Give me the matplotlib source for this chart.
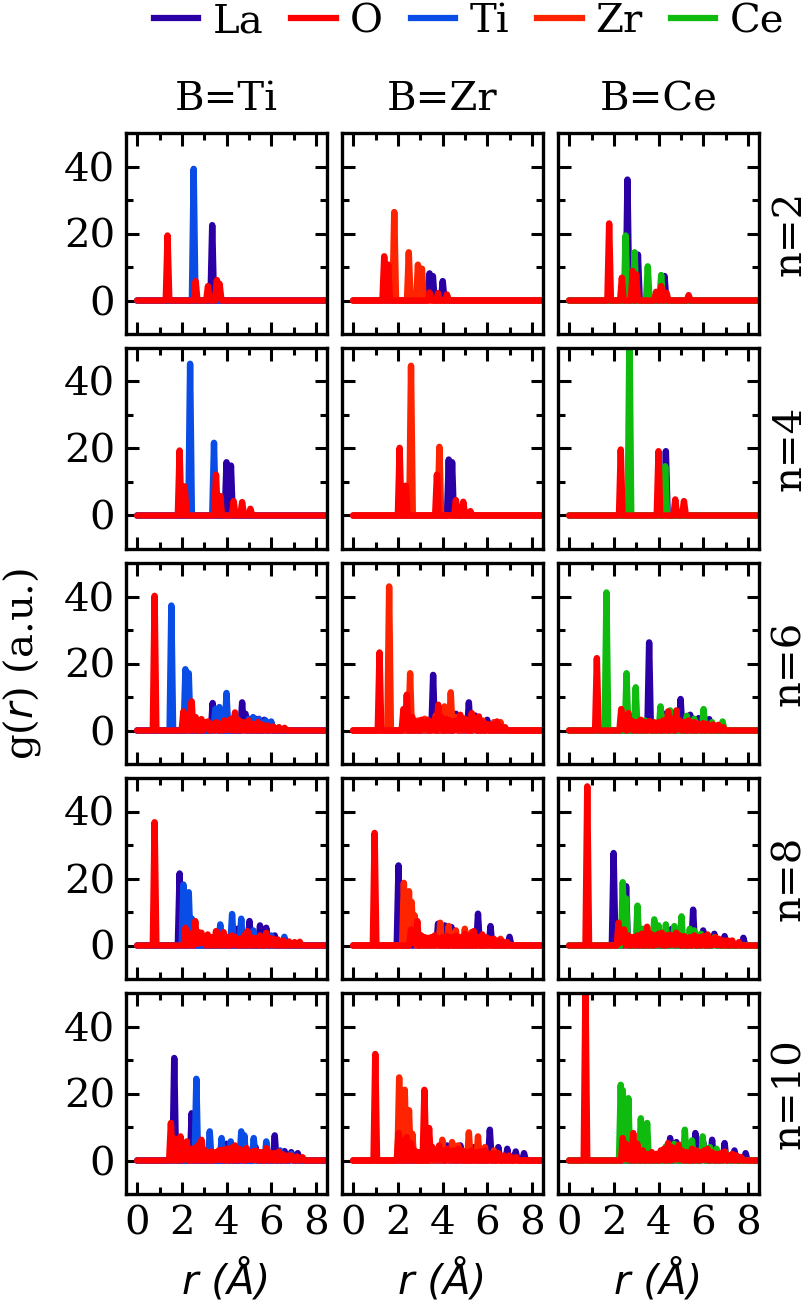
import numpy as np
import matplotlib
matplotlib.use('Agg')
import matplotlib.pyplot as plt
from matplotlib.lines import Line2D

# peak lists (r in Angstrom, height in a.u.)
# B = Ti
ti_n2_la = [(3.36, 22.5)]
ti_n2_b = [(2.53, 39.3)]
ti_n2_o = [(1.36, 19.4), (2.62, 5.8), (3.17, 4.3), (3.57, 6.1), (3.69, 5.0)]
ti_n4_la = [(4.00, 15.9), (4.20, 14.9)]
ti_n4_b = [(2.37, 45.3), (3.44, 21.7)]
ti_n4_o = [(1.90, 19.4), (2.13, 8.7), (3.53, 12.2), (3.72, 5.8), (4.32, 4.3),
           (4.70, 4.0), (5.07, 2.0)]
ti_n6_la = [(3.38, 8.2), (3.55, 6.0), (4.70, 8.4), (4.85, 5.0), (5.30, 3.5),
            (5.69, 3.2), (6.00, 2.5)]
ti_n6_b = [(1.53, 37.3), (2.16, 18.3), (2.31, 17.1), (3.50, 6.5), (3.68, 7.0),
           (4.00, 11.2), (4.45, 4.0), (5.00, 3.5), (5.19, 4.0), (5.45, 3.5),
           (5.75, 3.0), (6.00, 2.7)]
ti_n6_o = [(0.78, 40.2), (2.07, 5.7), (2.25, 3.0), (2.44, 8.7), (2.62, 4.0),
           (2.88, 3.4), (3.05, 2.5), (3.16, 2.7), (3.35, 2.0), (3.55, 2.5),
           (3.72, 2.0), (3.90, 3.0), (4.05, 2.7), (4.20, 3.5), (4.38, 5.4),
           (4.55, 3.0), (4.75, 2.5), (5.00, 3.0), (5.20, 2.0), (5.40, 2.5),
           (5.60, 1.8), (5.85, 1.5), (6.10, 1.2), (6.35, 1.0), (6.60, 0.8)]
ti_n8_la = [(1.90, 21.5), (4.50, 5.0), (5.03, 7.3), (5.50, 6.0), (5.78, 5.3),
            (6.16, 3.0)]
ti_n8_b = [(2.07, 18.2), (2.31, 15.9), (2.45, 8.0), (3.72, 6.3), (4.25, 9.4),
           (4.66, 8.0), (5.20, 4.5), (6.00, 3.0), (6.59, 2.6)]
ti_n8_o = [(0.78, 36.8), (2.16, 5.3), (2.35, 3.5), (2.60, 7.3), (2.75, 4.0),
           (2.88, 3.8), (3.00, 2.5), (3.16, 3.3), (3.35, 2.5), (3.53, 4.3),
           (3.70, 3.0), (3.87, 4.0), (4.05, 2.5), (4.25, 3.0), (4.40, 2.5),
           (4.60, 2.0), (4.78, 3.0), (4.94, 4.3), (5.10, 2.5), (5.30, 2.2),
           (5.50, 3.0), (5.78, 3.8), (5.95, 2.2), (6.10, 2.0), (6.30, 1.8),
           (6.55, 1.5), (6.80, 1.2), (7.05, 1.0), (7.28, 1.1)]
ti_n10_la = [(1.66, 30.6), (2.44, 14.1), (4.00, 5.0), (5.30, 4.0), (6.16, 7.5),
             (6.60, 2.8), (6.90, 2.5), (7.19, 2.2)]
ti_n10_b = [(2.65, 24.4), (3.25, 8.7), (3.78, 6.7), (4.19, 5.7), (4.66, 8.7),
            (4.80, 7.5), (5.22, 6.7), (5.78, 5.7), (6.40, 3.0), (6.90, 2.0)]
ti_n10_o = [(1.51, 11.2), (1.70, 6.5), (1.94, 7.2), (2.10, 5.0), (2.22, 5.7),
            (2.45, 3.5), (2.70, 4.5), (2.88, 6.2), (3.05, 3.0), (3.30, 2.7),
            (3.50, 2.5), (3.65, 3.0), (3.80, 3.2), (4.00, 3.5), (4.20, 3.8),
            (4.38, 4.5), (4.55, 3.5), (4.70, 3.0), (4.90, 3.7), (5.05, 2.5),
            (5.20, 2.8), (5.35, 2.9), (5.55, 2.5), (5.78, 3.7), (5.95, 2.4),
            (6.15, 2.2), (6.35, 2.7), (6.55, 1.8), (6.75, 1.5), (6.90, 1.5),
            (7.15, 1.2), (7.40, 1.0)]

# B = Zr
zr_n2_la = [(3.42, 8.1), (3.57, 7.3), (4.01, 5.8)]
zr_n2_b = [(1.84, 26.4), (2.49, 14.4), (2.90, 10.7), (3.08, 9.5)]
zr_n2_o = [(1.39, 13.2), (1.57, 10.7), (3.42, 2.4), (3.80, 2.2), (4.20, 1.8)]
zr_n4_la = [(4.28, 16.7), (4.43, 15.9)]
zr_n4_b = [(2.59, 44.7), (3.86, 20.5)]
zr_n4_o = [(2.08, 20.2), (2.36, 8.9), (3.75, 12.2), (4.60, 4.6), (4.93, 4.1),
           (5.25, 1.3)]
zr_n6_la = [(3.58, 16.6), (4.60, 5.0), (5.18, 8.4), (5.45, 4.5), (6.00, 3.2)]
zr_n6_b = [(1.61, 43.0), (2.55, 17.1), (2.90, 3.0), (3.20, 3.5), (3.70, 4.5),
           (4.09, 7.2), (4.37, 11.4), (4.60, 4.0), (5.00, 3.5), (5.45, 3.5),
           (5.80, 3.0), (6.30, 2.5), (6.60, 2.5)]
zr_n6_o = [(1.18, 23.3), (2.25, 6.4), (2.40, 10.7), (2.65, 4.0), (2.85, 2.5),
           (3.06, 3.2), (3.20, 2.5), (3.34, 3.2), (3.50, 2.5), (3.65, 3.5),
           (3.81, 7.7), (3.95, 4.0), (4.15, 3.5), (4.30, 3.0), (4.50, 2.8),
           (4.65, 3.0), (4.80, 4.7), (4.95, 3.5), (5.10, 2.5), (5.31, 5.2),
           (5.45, 3.0), (5.63, 4.2), (5.80, 2.5), (6.00, 2.0), (6.20, 1.8),
           (6.44, 2.7), (6.60, 1.2), (6.80, 1.0)]
zr_n8_la = [(2.03, 23.9), (3.80, 6.5), (4.10, 6.0), (4.40, 5.5), (5.59, 9.5),
            (6.15, 5.8), (7.00, 2.6)]
zr_n8_b = [(2.27, 18.7), (2.50, 16.2), (2.62, 13.0), (2.75, 9.0), (3.90, 6.8),
           (4.28, 5.8), (4.60, 4.5), (5.00, 5.0), (5.30, 4.0), (6.60, 2.0)]
zr_n8_o = [(0.96, 33.6), (2.59, 4.8), (2.72, 3.5), (2.87, 7.3), (3.05, 3.0),
           (3.20, 2.5), (3.35, 2.3), (3.50, 2.5), (3.65, 3.0), (3.80, 2.2),
           (4.00, 2.5), (4.20, 2.8), (4.40, 2.5), (4.60, 3.0), (4.80, 2.5),
           (5.00, 3.5), (5.20, 3.0), (5.40, 4.3), (5.60, 2.5), (5.78, 3.3),
           (5.95, 2.5), (6.10, 2.0), (6.30, 2.0), (6.50, 1.5), (6.70, 1.2),
           (6.90, 1.0)]
zr_n10_la = [(4.20, 4.5), (4.80, 4.5), (5.40, 4.0), (6.12, 9.2), (6.50, 4.0),
             (6.90, 3.5), (7.28, 2.7), (7.65, 2.2)]
zr_n10_b = [(2.06, 24.8), (2.31, 21.1), (2.50, 15.0), (2.65, 8.0), (3.99, 6.2),
            (4.43, 5.5), (4.70, 4.5), (5.18, 8.4), (5.59, 7.2), (5.90, 4.0),
            (6.30, 3.0)]
zr_n10_o = [(0.99, 31.8), (2.03, 8.2), (2.20, 6.0), (2.40, 7.0), (2.59, 5.2),
            (2.75, 3.0), (2.95, 2.5), (3.19, 21.1), (3.40, 9.7), (3.55, 4.0),
            (3.70, 3.0), (3.85, 4.5), (4.00, 3.0), (4.20, 3.5), (4.35, 2.8),
            (4.50, 3.0), (4.70, 3.5), (4.90, 3.0), (5.10, 2.5), (5.30, 3.0),
            (5.50, 2.5), (5.70, 2.8), (5.90, 3.0), (6.10, 2.0), (6.30, 2.2),
            (6.50, 2.2), (6.75, 1.5), (7.00, 1.5), (7.30, 1.0)]

# B = Ce
ce_n2_la = [(2.61, 36.1), (3.08, 13.7), (4.27, 7.3)]
ce_n2_b = [(2.53, 19.4), (2.93, 14.4), (3.52, 10.2), (4.12, 7.6)]
ce_n2_o = [(1.79, 23.0), (2.36, 6.8), (2.84, 8.8), (3.00, 7.8), (3.89, 2.6),
           (4.12, 4.3), (4.36, 2.3), (5.35, 1.6)]
ce_n4_la = [(4.33, 19.2)]
ce_n4_b = [(2.70, 55.0), (4.30, 14.7)]
ce_n4_o = [(2.31, 19.7), (4.00, 19.2), (4.75, 4.8), (5.14, 4.3)]
ce_n6_la = [(3.58, 26.3), (4.30, 5.0), (4.60, 4.5), (4.99, 9.4), (5.42, 4.7),
            (5.80, 3.7), (6.27, 3.4)]
ce_n6_b = [(1.67, 41.2), (2.57, 17.1), (2.98, 12.9), (3.40, 3.0), (4.09, 7.2),
           (4.30, 4.0), (4.52, 6.0), (4.80, 4.0), (5.27, 4.4), (5.60, 3.5),
           (6.02, 6.4), (6.40, 2.5), (6.87, 2.7)]
ce_n6_o = [(1.24, 21.6), (2.33, 6.4), (2.48, 4.5), (2.65, 5.2), (2.80, 3.0),
           (3.00, 2.5), (3.21, 3.2), (3.40, 2.5), (3.60, 2.8), (3.80, 2.5),
           (4.00, 2.5), (4.20, 3.0), (4.43, 5.7), (4.60, 3.5), (4.80, 6.0),
           (4.95, 3.0), (5.15, 2.5), (5.35, 3.0), (5.60, 2.5), (5.80, 2.0),
           (6.00, 2.2), (6.20, 2.0), (6.45, 1.8), (6.68, 1.7), (6.90, 1.0)]
ce_n8_la = [(1.99, 27.6), (2.55, 17.7), (4.60, 5.0), (5.55, 10.7), (6.00, 4.5),
            (6.50, 3.5), (6.96, 2.8), (7.80, 2.3)]
ce_n8_b = [(2.40, 18.9), (2.55, 14.0), (3.06, 11.9), (3.30, 5.0), (3.81, 7.8),
           (4.00, 6.0), (4.33, 6.3), (4.71, 5.8), (5.03, 8.7), (5.40, 5.0),
           (5.60, 4.5), (5.90, 3.5), (6.20, 3.0), (6.50, 2.5)]
ce_n8_o = [(0.81, 47.5), (2.21, 6.8), (2.35, 4.0), (2.46, 4.8), (2.65, 3.0),
           (2.85, 2.5), (3.05, 3.0), (3.25, 3.5), (3.49, 5.6), (3.65, 3.5),
           (3.85, 3.0), (4.00, 3.5), (4.15, 3.8), (4.35, 3.0), (4.50, 3.2),
           (4.65, 3.0), (4.80, 3.8), (4.95, 3.0), (5.15, 2.8), (5.40, 2.5),
           (5.60, 3.0), (5.80, 2.5), (6.00, 2.8), (6.20, 3.3), (6.40, 2.0),
           (6.55, 2.5), (6.70, 2.0), (6.90, 1.5), (7.10, 1.5), (7.30, 1.5),
           (7.60, 1.0)]
ce_n10_la = [(4.52, 6.7), (4.80, 5.5), (5.10, 5.0), (5.65, 8.2), (6.00, 5.5),
             (6.40, 6.2), (6.96, 5.2), (7.40, 3.0), (7.90, 2.2)]
ce_n10_b = [(2.31, 22.6), (2.40, 21.0), (2.65, 18.6), (3.21, 12.6), (3.49, 11.2),
            (4.33, 4.2), (4.70, 5.0), (5.18, 9.2), (5.50, 6.0), (5.98, 7.2),
            (6.30, 4.0), (6.60, 3.5), (7.00, 2.5)]
ce_n10_o = [(0.73, 52.0), (2.40, 6.7), (2.55, 5.0), (2.70, 4.0), (2.87, 8.2),
            (3.05, 5.0), (3.30, 3.0), (3.50, 2.0), (3.70, 2.5), (3.90, 2.0),
            (4.10, 3.0), (4.25, 3.5), (4.43, 5.2), (4.60, 4.0), (4.75, 3.5),
            (4.90, 4.7), (5.05, 3.0), (5.25, 2.5), (5.50, 3.5), (5.70, 3.0),
            (5.90, 2.5), (6.05, 3.0), (6.20, 3.5), (6.40, 2.5), (6.60, 2.0),
            (6.80, 2.2), (6.96, 2.7), (7.15, 1.5), (7.30, 2.0), (7.50, 1.5),
            (7.70, 1.0)]

b_sites = ['Ti', 'Zr', 'Ce']
n_layers = [2, 4, 6, 8, 10]
species = ['La', 'O', 'Ti', 'Zr', 'Ce']
colors = {'La': '#2a00a6', 'O': '#ff0000', 'Ti': '#0a4ce6',
          'Zr': '#ff2400', 'Ce': '#10bb10'}

panels = {
    'Ti': [(ti_n2_la, ti_n2_b, ti_n2_o), (ti_n4_la, ti_n4_b, ti_n4_o),
           (ti_n6_la, ti_n6_b, ti_n6_o), (ti_n8_la, ti_n8_b, ti_n8_o),
           (ti_n10_la, ti_n10_b, ti_n10_o)],
    'Zr': [(zr_n2_la, zr_n2_b, zr_n2_o), (zr_n4_la, zr_n4_b, zr_n4_o),
           (zr_n6_la, zr_n6_b, zr_n6_o), (zr_n8_la, zr_n8_b, zr_n8_o),
           (zr_n10_la, zr_n10_b, zr_n10_o)],
    'Ce': [(ce_n2_la, ce_n2_b, ce_n2_o), (ce_n4_la, ce_n4_b, ce_n4_o),
           (ce_n6_la, ce_n6_b, ce_n6_o), (ce_n8_la, ce_n8_b, ce_n8_o),
           (ce_n10_la, ce_n10_b, ce_n10_o)],
}

R = np.linspace(0.0, 8.5, 1701)
HW = 0.08


def spikes(peaks):
    # draw each listed peak as a narrow spike on a zero baseline
    g = np.zeros_like(R)
    for rp, h in peaks:
        g = np.maximum(g, h * np.clip(1 - np.abs(R - rp) / HW, 0, None))
    return g


plt.rcParams['font.family'] = ['DejaVu Serif']
plt.rcParams['mathtext.fontset'] = 'dejavusans'
FS = 29

W, H = 808, 1305
fig = plt.figure(figsize=(W / 100, H / 100), dpi=100)

left, top = 126, 133
pw, ph = 201, 201
gx, gy = 15, 14

for i, n in enumerate(n_layers):
    for j, b in enumerate(b_sites):
        x0 = left + j * (pw + gx)
        y0 = top + i * (ph + gy)
        ax = fig.add_axes([x0 / W, 1 - (y0 + ph) / H, pw / W, ph / H])
        la, bb, o = panels[b][i]
        kw = dict(lw=4.6, solid_joinstyle='round', solid_capstyle='round')
        ax.plot(R, spikes(la), color=colors['La'], **kw)
        ax.plot(R, spikes(bb), color=colors[b], **kw)
        ax.plot(R, spikes(o), color=colors['O'], **kw)
        ax.set_xlim(-0.5, 8.5)
        ax.set_ylim(-10, 50)
        ax.set_xticks([0, 2, 4, 6, 8])
        ax.set_xticks([1, 3, 5, 7], minor=True)
        ax.set_yticks([0, 20, 40])
        ax.set_yticks([10, 30], minor=True)
        ax.tick_params(which='both', direction='in', top=True, right=True,
                       width=2.2, labelsize=FS)
        ax.tick_params(which='major', length=9, pad=8)
        ax.tick_params(which='minor', length=5)
        for s in ax.spines.values():
            s.set_linewidth(2.4)
        if j > 0:
            ax.set_yticklabels([])
        if i < len(n_layers) - 1:
            ax.set_xticklabels([])
        if i == 0:
            fig.text((x0 + pw / 2) / W, 1 - 100 / H, f'B={b}', fontsize=FS,
                     ha='center', va='center')
        if i == len(n_layers) - 1:
            fig.text((x0 + pw / 2) / W, 1 - 1280 / H, 'r (Å)', fontsize=FS,
                     family='DejaVu Sans', style='oblique',
                     ha='center', va='center')
        if j == len(b_sites) - 1:
            fig.text(790 / W, 1 - (y0 + ph / 2) / H, f'n={n}', fontsize=FS,
                     rotation=90, ha='center', va='center')

fig.text(22 / W, 1 - 664 / H, 'g($r$) (a.u.)', fontsize=FS, rotation=90,
         ha='center', va='center')

handles = [Line2D([], [], color=colors[s], lw=4.5) for s in species]
fig.legend(handles, species, loc='center', bbox_to_anchor=(469 / W, 1 - 22 / H),
           ncol=5, frameon=False, fontsize=FS, handlelength=1.1,
           handletextpad=0.35, columnspacing=0.7, borderpad=0, borderaxespad=0)

fig.savefig('out.png', dpi=100)
